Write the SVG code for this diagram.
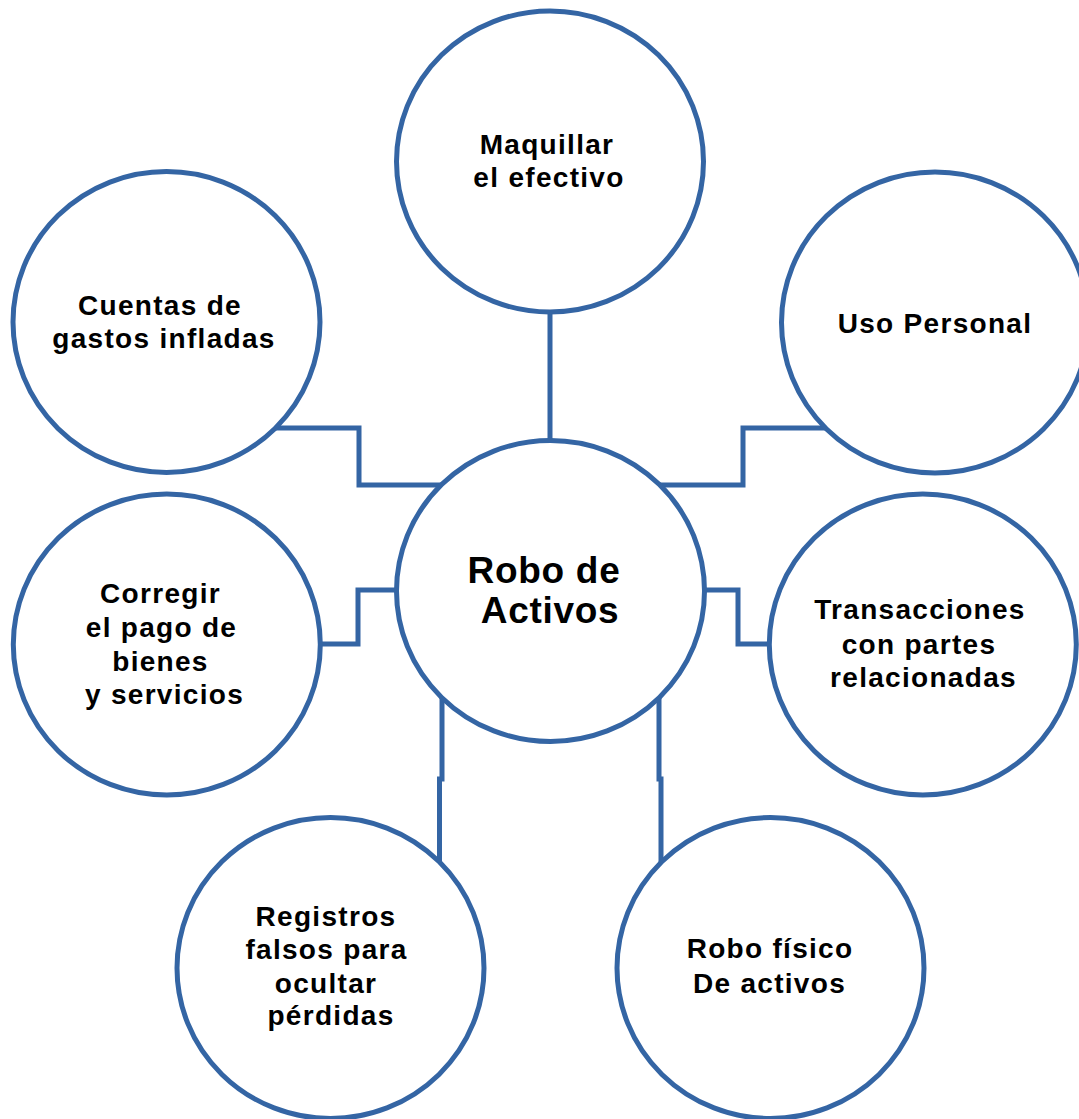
<svg xmlns="http://www.w3.org/2000/svg" width="1079" height="1119" viewBox="0 0 1079 1119">
<style>
.bg{fill:#ffffff}
.node{fill:#ffffff;stroke:#3465a4;stroke-width:5}
.conn{fill:none;stroke:#3465a4;stroke-width:5;stroke-linejoin:miter}
.t{font-family:"Liberation Sans",Arial,sans-serif;font-weight:bold;font-size:28px;fill:#000000;text-anchor:middle;letter-spacing:1.3px}
.tc{font-size:37px;letter-spacing:0.7px}
</style>
<rect class="bg" x="0" y="0" width="1079" height="1119"/>
<g id="connectors">
<path class="conn" d="M550,300 V450"/>
<path class="conn" d="M270,428 H359 V485 H450"/>
<path class="conn" d="M830,428 H743 V485 H650"/>
<path class="conn" d="M405,590 H358 V644 H310"/>
<path class="conn" d="M696,590 H738 V644 H780"/>
<path class="conn" d="M442,690 V779 H439.5 V868"/>
<path class="conn" d="M659,690 V779 H661 V868"/>
</g>
<g id="node-maquillar">
<ellipse class="node" cx="550" cy="161.5" rx="153.5" ry="150.5"/>
<text class="t" x="547" y="154">Maquillar</text>
<text class="t" x="549" y="187">el efectivo</text>
</g>
<g id="node-cuentas">
<ellipse class="node" cx="166.5" cy="322" rx="153.5" ry="150.5"/>
<text class="t" x="160" y="315">Cuentas de</text>
<text class="t" x="164" y="348">gastos infladas</text>
</g>
<g id="node-uso">
<ellipse class="node" cx="935" cy="322.5" rx="153.5" ry="150.5"/>
<text class="t" x="935" y="333">Uso Personal</text>
</g>
<g id="node-center">
<ellipse class="node" cx="550.5" cy="591" rx="154" ry="150.5"/>
<text class="t tc" x="544" y="583">Robo de</text>
<text class="t tc" x="550" y="623">Activos</text>
</g>
<g id="node-corregir">
<ellipse class="node" cx="166.8" cy="644.5" rx="153.5" ry="150.5"/>
<text class="t" x="160.5" y="603">Corregir</text>
<text class="t" x="161.5" y="637">el pago de</text>
<text class="t" x="160.5" y="671">bienes</text>
<text class="t" x="164.5" y="704">y servicios</text>
</g>
<g id="node-transacciones">
<ellipse class="node" cx="922.8" cy="644.5" rx="153.5" ry="150.5"/>
<text class="t" x="920" y="619">Transacciones</text>
<text class="t" x="919" y="654">con partes</text>
<text class="t" x="923.5" y="687">relacionadas</text>
</g>
<g id="node-registros">
<ellipse class="node" cx="330.5" cy="968" rx="153.5" ry="150.5"/>
<text class="t" x="326" y="926">Registros</text>
<text class="t" x="326.5" y="959">falsos para</text>
<text class="t" x="326" y="993">ocultar</text>
<text class="t" x="331" y="1025">pérdidas</text>
</g>
<g id="node-robofisico">
<ellipse class="node" cx="770.5" cy="968" rx="153.5" ry="150.5"/>
<text class="t" x="770" y="958">Robo físico</text>
<text class="t" x="769.5" y="993">De activos</text>
</g>
</svg>
